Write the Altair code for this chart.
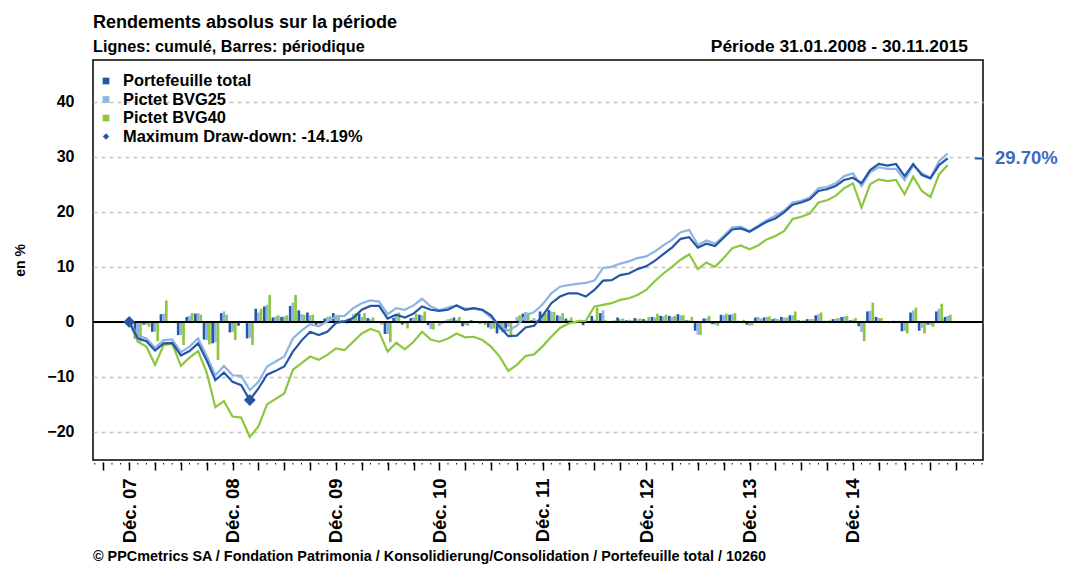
import altair as alt
import pandas as pd

FONT = "Liberation Sans"

series_names = ["Portefeuille total", "Pictet BVG25", "Pictet BVG40"]
series_colors = ["#2456a5", "#8db4e2", "#8dc63f"]

# month index: 0 = Dec 2007 ... 95 = Nov 2015
months = list(range(96))

portfolio_cum = [0, -3.0, -3.5, -5.2, -3.9, -3.8, -6.1, -5.3, -3.9, -7.0,
                 -10.6, -9.2, -10.9, -11.5, -14.19, -12.1, -9.6, -8.9, -8.1, -5.4,
                 -3.4, -1.8, -2.4, -1.8, -0.2, 0.1, 0.7, 2.2, 2.9, 2.9,
                 0.6, 1.3, 0.8, 1.5, 2.8, 2.2, 2.0, 2.2, 3.0, 2.2,
                 2.5, 2.2, 1.2, -0.9, -2.6, -2.5, -1.0, -0.7, 1.2, 3.4,
                 4.6, 5.2, 5.2, 4.6, 5.8, 7.5, 7.6, 8.5, 8.8, 9.6,
                 10.1, 11.1, 12.3, 13.5, 15.1, 15.4, 13.5, 14.2, 13.8, 15.3,
                 16.8, 17.0, 16.4, 17.3, 18.2, 18.8, 19.9, 21.3, 21.7, 22.3,
                 23.8, 24.1, 24.7, 25.8, 26.2, 25.2, 27.6, 28.7, 28.4, 28.7,
                 26.5, 28.7, 26.7, 26.1, 28.5, 29.7]

bvg25_cum = [0, -2.5, -3.0, -4.7, -3.3, -3.2, -5.5, -4.5, -3.0, -6.2,
             -9.7, -8.0, -9.7, -9.8, -12.4, -10.9, -8.1, -7.2, -6.3, -3.0,
             -1.6, -0.4, -0.8, 0.1, 1.0, 1.1, 2.5, 3.4, 3.9, 3.7,
             1.4, 2.5, 2.2, 3.0, 4.2, 2.8, 2.1, 2.6, 3.0, 2.4,
             2.4, 2.1, 0.8, -0.7, -1.6, -0.7, 1.1, 1.8, 3.2, 5.2,
             6.4, 6.7, 6.9, 7.1, 7.5, 9.8, 10.0, 10.6, 11.0, 11.6,
             11.9, 12.8, 13.9, 14.9, 16.3, 16.7, 14.0, 14.8, 14.2, 15.6,
             17.2, 17.3, 16.5, 17.5, 18.5, 19.3, 20.2, 21.7, 22.0, 22.6,
             24.3, 24.5, 25.2, 26.5, 27.0, 24.7, 27.2, 28.1, 27.8, 27.8,
             25.8, 28.4, 27.0, 26.2, 29.2, 30.6]

bvg40_cum = [0, -3.6, -4.5, -7.8, -4.2, -4.0, -8.0, -6.5, -5.3, -9.2,
             -15.5, -14.4, -17.2, -17.4, -20.9, -19.0, -15.0, -14.0, -13.0, -8.7,
             -7.5, -6.3, -6.9, -6.0, -4.8, -5.1, -3.6, -2.1, -1.3, -1.8,
             -5.4, -3.8, -5.0, -3.6, -1.8, -3.2, -3.6, -3.0, -2.1, -2.8,
             -2.7, -3.3, -4.5, -6.3, -8.9, -7.8, -6.2, -5.9, -4.4, -2.7,
             -1.1, -0.3, 0.1, 0.2, 2.8, 3.1, 3.4, 4.0, 4.3, 4.9,
             5.8, 7.4, 8.8, 10.0, 11.3, 12.3, 9.6, 10.8, 10.0, 11.6,
             13.4, 13.9, 13.2, 13.9, 15.0, 15.6, 16.5, 18.7, 19.1, 19.7,
             21.7, 22.1, 22.9, 24.3, 25.2, 20.8, 25.0, 25.9, 25.6, 25.8,
             23.2, 26.4, 23.8, 22.7, 26.8, 28.5]

# periodic (monthly) returns, month 1 (Jan 2008) ... 95 (Nov 2015)
ret_months = list(range(1, 96))

portfolio_ret = [-3.0, -0.5, -1.8, 1.4, 0.1, -2.4, 0.9, 1.5, -3.2,
                 -3.9, 1.6, -1.9, -0.7, -3.0, 2.4, 2.8, 0.8, 0.9, 2.9,
                 2.1, 1.7, -0.6, 0.6, 1.6, 0.3, 0.6, 1.5, 0.7, 0.0,
                 -2.2, 0.7, -0.5, 0.7, 1.3, -0.6, -0.2, 0.2, 0.8, -0.8,
                 0.3, -0.3, -1.0, -2.1, -1.7, 0.1, 1.5, 0.3, 1.9, 2.2,
                 1.2, 0.6, 0.0, -0.6, 1.1, 1.6, 0.1, 0.8, 0.3, 0.7,
                 0.5, 0.9, 1.1, 1.1, 1.4, 0.3, -1.6, 0.6, -0.4, 1.3,
                 1.3, 0.2, -0.5, 0.8, 0.8, 0.5, 0.9, 1.2, 0.3, 0.5,
                 1.2, 0.2, 0.5, 0.9, 0.3, -0.8, 1.9, 0.9, -0.2, 0.2,
                 -1.7, 1.7, -1.6, -0.5, 1.9, 0.9]

bvg25_ret = [-2.5, -0.5, -1.8, 1.5, 0.1, -2.4, 1.1, 1.6, -3.3,
             -3.7, 1.9, -1.8, -0.1, -2.9, 1.7, 3.1, 1.0, 1.0, 3.5,
             1.4, 1.2, -0.4, 0.9, 0.9, 0.1, 1.4, 0.9, 0.5, -0.2,
             -2.2, 1.1, -0.3, 0.8, 1.2, -1.3, -0.7, 0.5, 0.4, -0.6,
             0.0, -0.3, -1.3, -1.5, -0.9, 0.9, 1.8, 0.7, 1.4, 1.9,
             1.1, 0.3, 0.2, 0.2, 0.4, 2.1, 0.2, 0.5, 0.4, 0.5,
             0.3, 0.8, 1.0, 0.9, 1.2, 0.3, -2.3, 0.7, -0.5, 1.2,
             1.4, 0.1, -0.7, 0.9, 0.9, 0.7, 0.8, 1.2, 0.2, 0.5,
             1.4, 0.2, 0.6, 1.0, 0.4, -1.8, 2.0, 0.7, -0.2, 0.0,
             -1.6, 2.1, -1.1, -0.6, 2.4, 1.1]

bvg40_ret = [-3.6, -0.9, -3.5, 3.9, 0.2, -4.2, 1.6, 1.3, -4.1,
             -6.9, 1.3, -3.3, -0.2, -4.2, 2.4, 4.9, 1.2, 1.2, 4.9,
             1.3, 1.3, -0.6, 1.0, 1.3, -0.3, 1.6, 1.6, 0.8, -0.5,
             -3.7, 1.7, -1.2, 1.5, 1.9, -1.4, -0.4, 0.6, 0.9, -0.7,
             0.1, -0.6, -1.2, -1.9, -2.8, 1.2, 1.7, 0.3, 1.6, 1.8,
             1.6, 0.8, 0.4, 0.1, 2.6, 0.3, 0.3, 0.6, 0.3, 0.6,
             0.9, 1.5, 1.3, 1.1, 1.2, 0.9, -2.4, 1.1, -0.7, 1.5,
             1.6, 0.4, -0.6, 0.6, 1.0, 0.5, 0.8, 1.9, 0.3, 0.5,
             1.7, 0.3, 0.7, 1.1, 0.7, -3.5, 3.5, 0.7, -0.2, 0.2,
             -2.1, 2.6, -2.1, -0.9, 3.3, 1.3]

drawdown_months = [0, 14]
drawdown_values = [0.0, -14.19]
final_value = 29.70

y_ticks = [-20, -10, 0, 10, 20, 30, 40]
x_major_ticks = list(range(-3, 99, 3))
x_minor_ticks = list(range(-4, 100))

legend_labels = ["Portefeuille total", "Pictet BVG25", "Pictet BVG40",
                 "Maximum Draw-down: -14.19%"]

title_text = "Rendements absolus sur la période"
subtitle_text = "Lignes: cumulé, Barres: périodique"
period_text = "Période 31.01.2008 - 30.11.2015"
footer_text = ("© PPCmetrics SA / Fondation Patrimonia / Konsolidierung/Consolidation"
               " / Portefeuille total / 10260")

# ---------------------------------------------------------------- data frames
cum_lists = [portfolio_cum, bvg25_cum, bvg40_cum]
ret_lists = [portfolio_ret, bvg25_ret, bvg40_ret]

line_frames = {}
for name, vals in zip(series_names, cum_lists):
    line_frames[name] = pd.DataFrame({"month": months, "value": vals, "series": name})

bar_rows = []
for k, (name, vals) in enumerate(zip(series_names, ret_lists)):
    for m, v in zip(ret_months, vals):
        bar_rows.append({"month": m, "value": v, "series": name, "slot": k})
bars_df = pd.DataFrame(bar_rows)

dd_df = pd.DataFrame({"month": drawdown_months, "value": drawdown_values})
minor_df = pd.DataFrame({"month": x_minor_ticks})

W, H = 890, 400
x_scale = alt.Scale(domain=[-4.2, 99.1], nice=False, zero=False)
y_scale = alt.Scale(domain=[-25.1, 47.6], nice=False, zero=False)
color_scale = alt.Scale(domain=series_names, range=series_colors)

label_expr = ("(datum.value % 12 == 0 && datum.value <= 84) ? 'Déc. ' + "
              "((datum.value / 12 + 7) < 10 ? '0' : '') + (datum.value / 12 + 7) : ''")

x_axis = alt.Axis(values=x_major_ticks, labelExpr=label_expr, title=None,
                  domain=False, grid=False, ticks=True, tickSize=8, tickWidth=1.5,
                  tickColor="black", offset=2, labelAngle=270, labelAlign="right",
                  labelBaseline="middle", labelPadding=8, labelFontSize=18.5,
                  labelFontWeight="bold", labelColor="black", labelFont=FONT,
                  labelOverlap=False)
y_axis = alt.Axis(values=y_ticks, title="en %", domain=False, ticks=False,
                  grid=True, gridDash=[4, 4], gridColor="#c4c4c4", gridWidth=1.5,
                  labelFontSize=16, labelFontWeight="bold", labelColor="black",
                  labelFont=FONT, labelPadding=19, titleFontSize=14,
                  titleFontWeight="bold", titleFont=FONT, titleColor="black",
                  titlePadding=19)


def xq(field):
    return alt.X(field, scale=x_scale, axis=x_axis)


def yq(field):
    return alt.Y(field, scale=y_scale, axis=y_axis)


bars = alt.Chart(bars_df).transform_calculate(
    x0="datum.month - 0.465 + datum.slot * 0.31",
    x1="datum.month - 0.155 + datum.slot * 0.31",
).mark_bar(strokeWidth=0).encode(
    x=xq("x0:Q"),
    x2="x1:Q",
    y=yq("value:Q"),
    y2=alt.datum(0),
    color=alt.Color("series:N", scale=color_scale, legend=None),
)

zero_rule = alt.Chart(pd.DataFrame({"value": [0]})).mark_rule(
    color="black", strokeWidth=2).encode(y=yq("value:Q"))

minor = alt.Chart(minor_df).mark_rule(color="black", strokeWidth=1).encode(
    x=xq("month:Q"),
    y=alt.value(H + 3), y2=alt.value(H + 4.5))

line_layers = []
for name, col in zip(reversed(series_names), reversed(series_colors)):
    line_layers.append(
        alt.Chart(line_frames[name]).mark_line(strokeWidth=2.2, color=col).encode(
            x=xq("month:Q"), y=yq("value:Q"))
    )

dd = alt.Chart(dd_df).mark_point(shape="diamond", filled=True, size=140,
                                  color=series_colors[0], opacity=1).encode(
    x=xq("month:Q"), y=yq("value:Q"))

end_df = pd.DataFrame({"value": [final_value], "t": [f"{final_value:.2f}%"]})
end_mark = alt.Chart(end_df).mark_rule(color=series_colors[0], strokeWidth=2).encode(
    y=yq("value:Q"), x=alt.value(W - 8), x2=alt.value(W))
end_text = alt.Chart(end_df).mark_text(
    align="left", baseline="middle", font=FONT, fontSize=18.5, fontWeight="bold",
    color="#3b6bbf").encode(y=yq("value:Q"), x=alt.value(W + 12), text="t:N")


def label(txt, x, y, size, weight="normal", align="left", baseline="alphabetic",
          color="black", angle=0):
    kw = dict(align=align, baseline=baseline, font=FONT, fontSize=size,
              fontWeight=weight, color=color)
    if angle:
        kw["angle"] = angle
    return alt.Chart(pd.DataFrame({"t": [txt]})).mark_text(**kw).encode(
        x=alt.value(x), y=alt.value(y), text="t:N")


texts = [
    label(title_text, 0, -32, 18, "bold"),
    label(subtitle_text, 0, -8, 16.2, "bold"),
    label(period_text, 875, -8, 17.4, "bold", align="right"),
    label(footer_text, 0, 501, 14.4, "bold"),
]

legend_layers = []
for i, txt in enumerate(legend_labels):
    ly = 21 + 18.5 * i
    shape = "diamond" if i == 3 else "square"
    col = series_colors[i] if i < 3 else series_colors[0]
    legend_layers.append(
        alt.Chart(pd.DataFrame({"t": [txt]})).mark_point(
            shape=shape, filled=True, size=45 if i < 3 else 40, color=col, opacity=1
        ).encode(x=alt.value(13), y=alt.value(ly))
    )
    legend_layers.append(label(txt, 30, ly, 16.4, "bold", baseline="middle"))

chart = alt.layer(
    bars, zero_rule, minor, *line_layers, dd, end_mark, end_text, *texts, *legend_layers
).properties(
    width=W, height=H,
    autosize=alt.AutoSizeParams(type="none"),
    padding={"left": 85, "top": 52, "right": 76, "bottom": 105},
).configure_view(
    stroke="black", strokeWidth=1.5
)

chart.save("out.html", embed_options={"renderer": "svg", "actions": False})
